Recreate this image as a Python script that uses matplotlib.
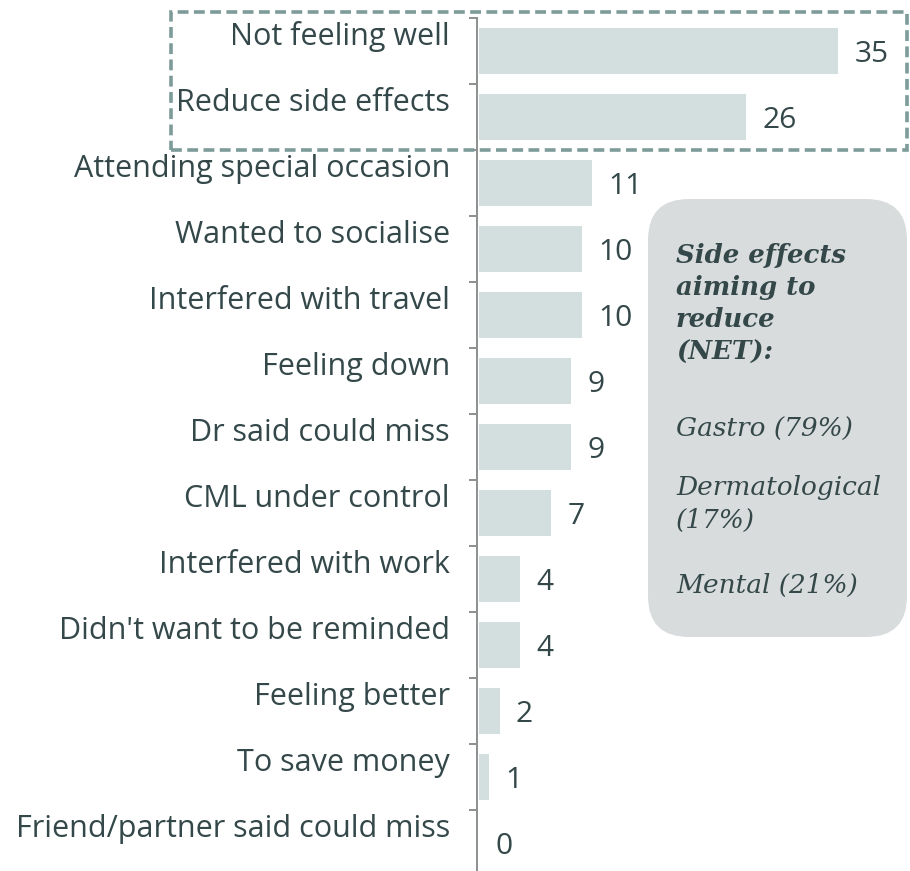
import matplotlib.pyplot as plt
from matplotlib.patches import FancyBboxPatch, Rectangle
from matplotlib.ticker import FixedLocator
from matplotlib.transforms import blended_transform_factory, offset_copy

reasons = [
    'Not feeling well',
    'Reduce side effects',
    'Attending special occasion',
    'Wanted to socialise',
    'Interfered with travel',
    'Feeling down',
    'Dr said could miss',
    'CML under control',
    'Interfered with work',
    "Didn't want to be reminded",
    'Feeling better',
    'To save money',
    'Friend/partner said could miss',
]
counts = [35, 26, 11, 10, 10, 9, 9, 7, 4, 4, 2, 1, 0]

note_title = 'Side effects\naiming to\nreduce\n(NET):'
note_items = ['Gastro (79%)', 'Dermatological\n(17%)', 'Mental (21%)']

TEXT = '#34484a'
BAR = '#d3dfdf'
SPINE = '#8c8f8f'

plt.rcParams['font.family'] = ['Open Sans', 'DejaVu Sans']

W, H = 910, 871
fig = plt.figure(figsize=(W / 100, H / 100), dpi=100)

# axes box in pixel terms: spine at x=477, top at y=18, running off the bottom
left, top = 477, 18
ax = fig.add_axes([left / W, 0, (W - left) / W, (H - top) / H])

px_per_unit = 10.26
ax.set_xlim(0, (W - left) / px_per_unit)
pitch = 66
ax.set_ylim(-0.5 + (H - top) / pitch, -0.5)

y = list(range(len(reasons)))
ax.barh(y, counts, height=0.71, color=BAR, left=0.2)

for yi, v in zip(y, counts):
    ax.text(v + 0.2 + 1.6, yi + 0.05, str(v), ha='left', va='center',
            fontsize=21.5, color=TEXT)

# category labels sit a little above the bar centre
lab_tr = offset_copy(blended_transform_factory(ax.transAxes, ax.transData),
                     fig=fig, x=-27, y=14, units='dots')
for yi, name in zip(y, reasons):
    ax.text(0, yi, name, transform=lab_tr, ha='right', va='center',
            fontsize=22, color=TEXT)

ax.set_yticks([])
ax.yaxis.set_minor_locator(FixedLocator([i - 0.5 for i in range(len(reasons))]))
ax.tick_params(axis='y', which='minor', length=6, width=1.4, color=SPINE)
ax.set_xticks([])
for s in ['top', 'right', 'bottom']:
    ax.spines[s].set_visible(False)
ax.spines['left'].set_color(SPINE)
ax.spines['left'].set_linewidth(1.4)

# dashed frame around the first two reasons
def fx(p):
    return p / W

def fy(p):
    return 1 - p / H

frame = Rectangle((fx(171), fy(150)), fx(907) - fx(171), fy(12) - fy(150),
                  transform=fig.transFigure, fill=False, edgecolor='#7d9b99',
                  linewidth=2.6, linestyle=(0, (3.0, 1.5)), zorder=5)
fig.add_artist(frame)

# rounded note box
note = FancyBboxPatch((fx(648), fy(637)), fx(907) - fx(648), fy(199) - fy(637),
                      boxstyle='round,pad=0,rounding_size=0.045',
                      transform=fig.transFigure, facecolor='#d9dcdd',
                      edgecolor='none', mutation_aspect=W / H, zorder=4)
fig.add_artist(note)

fig.text(fx(676), fy(243), note_title, ha='left', va='top', fontsize=18.7,
         family='DejaVu Serif', style='italic', weight='bold', color=TEXT,
         linespacing=1.36, zorder=6)
for item, ypix in zip(note_items, [417, 475, 573]):
    fig.text(fx(676), fy(ypix), item, ha='left', va='top', fontsize=19,
             family='DejaVu Serif', style='italic', color=TEXT,
             linespacing=1.4, zorder=6)

fig.savefig('out.png', dpi=100)
